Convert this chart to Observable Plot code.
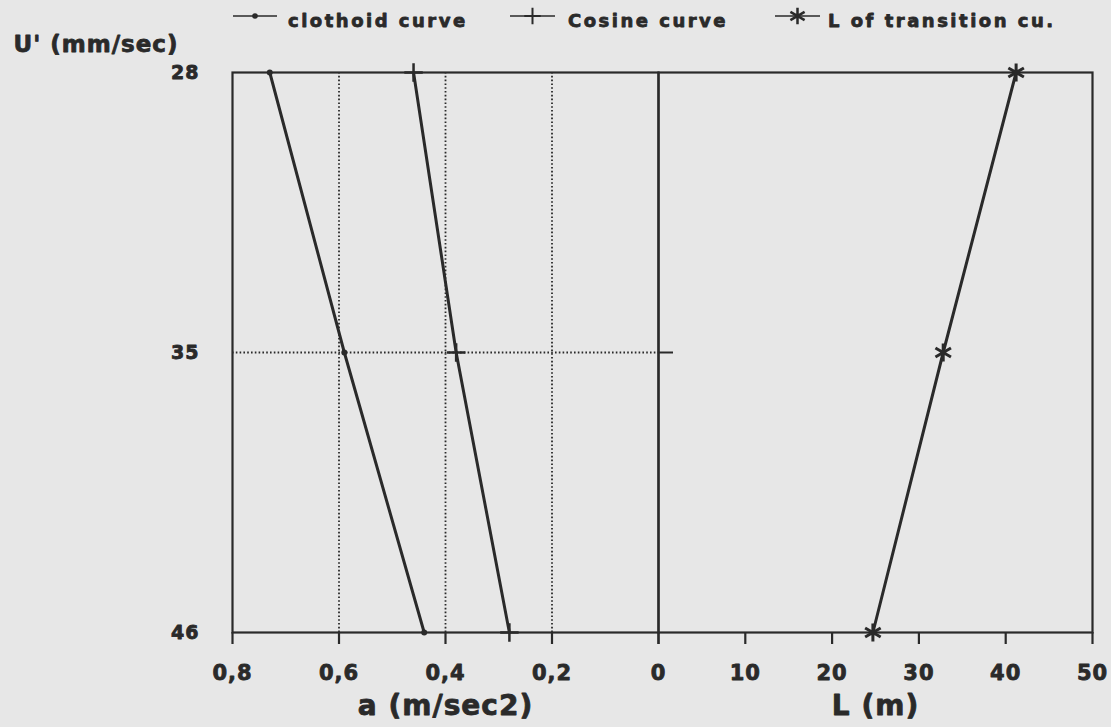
<!DOCTYPE html>
<html>
<head>
<meta charset="utf-8">
<script src="https://cdn.jsdelivr.net/npm/d3@7"></script>
<script src="https://cdn.jsdelivr.net/npm/@observablehq/plot@0.6"></script>
<style>
  html, body { margin: 0; padding: 0; background: #e7e7e7; width: 1111px; height: 727px; overflow: hidden; font-family: "DejaVu Sans", sans-serif; }
  #legend { position: relative; width: 1111px; height: 32px; }
  #row { position: relative; width: 1111px; height: 695px; }
  #left { position: absolute; left: 0; top: 0; }
  #right { position: absolute; left: 658px; top: 0; }
  #row text, #legend text { stroke: #2a2a2a; stroke-width: 0.8px; stroke-linejoin: round; }
</style>
</head>
<body>
<div id="legend"></div>
<div id="row"><div id="left"></div><div id="right"></div></div>
<script>
// ---- data ----
const seriesNames = ["clothoid curve", "Cosine curve", "L of transition cu."];
const uValues = [28, 35, 46];                 // U' (mm/sec)
const clothoidA = [0.73, 0.59, 0.44];         // a (m/sec2)
const cosineA = [0.46, 0.38, 0.28];           // a (m/sec2)
const transitionL = [41.2, 32.8, 24.7];       // L (m)
const aTicks = [0.8, 0.6, 0.4, 0.2, 0];
const aTickLabels = ["0,8", "0,6", "0,4", "0,2", "0"];
const aGrid = [0.6, 0.4, 0.2];
const lTicks = [0, 10, 20, 30, 40, 50];
const lTickLabels = ["", "10", "20", "30", "40", "50"];
const yLabel = "U' (mm/sec)";
const aLabel = "a (m/sec2)";
const lLabel = "L (m)";

const clothoid = uValues.map((u, i) => ({U: u, a: clothoidA[i]}));
const cosine = uValues.map((u, i) => ({U: u, a: cosineA[i]}));
const transition = uValues.map((u, i) => ({U: u, L: transitionL[i]}));

const ink = "#2a2a2a";
const dotted = {stroke: ink, strokeWidth: 1.8, strokeDasharray: "1.6,2.2"};
const baseStyle = {
  background: "transparent", color: ink, fontFamily: "DejaVu Sans, sans-serif",
  fontWeight: "bold", fontSize: "19px", letterSpacing: "1px", overflow: "visible"
};
const H = 695, MT = 40, MB = 95;
const yScale = {type: "point", domain: uValues, padding: 0};

// ---- left panel: a (m/sec2), reversed ----
const left = Plot.plot({
  width: 658, height: H, marginLeft: 232, marginRight: 0, marginTop: MT, marginBottom: MB,
  style: baseStyle,
  x: {domain: [0.8, 0]},
  y: yScale,
  marks: [
    Plot.ruleX(aGrid, dotted),
    Plot.ruleY([35], dotted),
    Plot.frame({stroke: ink, strokeWidth: 2.2}),
    Plot.axisX({ticks: aTicks, tickFormat: d => aTickLabels[aTicks.indexOf(d)], tickSize: 12, tickPadding: 21, fontSize: 21, strokeWidth: 2.2, label: null}),
    Plot.axisY({tickSize: 0, tickPadding: 33, fontSize: 19, label: null}),
    Plot.text([yLabel], {text: d => d, frameAnchor: "top-left", dx: -219, dy: -28, textAnchor: "start", lineAnchor: "middle", fontSize: 23}),
    Plot.text([aLabel], {text: d => d, frameAnchor: "bottom", dy: 74, lineAnchor: "middle", fontSize: 28}),
    Plot.line(clothoid, {x: "a", y: "U", stroke: ink, strokeWidth: 3}),
    Plot.dot(clothoid, {x: "a", y: "U", r: 3, fill: ink}),
    Plot.line(cosine, {x: "a", y: "U", stroke: ink, strokeWidth: 3}),
    Plot.dot(cosine, {x: "a", y: "U", symbol: "plus", r: 6, stroke: ink, strokeWidth: 2.5})
  ]
});
document.getElementById("left").append(left);

// ---- right panel: L (m) ----
const right = Plot.plot({
  width: 453, height: H, marginLeft: 0, marginRight: 19, marginTop: MT, marginBottom: MB,
  style: baseStyle,
  x: {domain: [0, 50]},
  y: yScale,
  marks: [
    Plot.frame({stroke: ink, strokeWidth: 2.2}),
    Plot.axisY({ticks: [35], tickSize: -15, tickFormat: () => "", strokeWidth: 2, label: null}),
    Plot.axisX({ticks: lTicks, tickFormat: d => lTickLabels[lTicks.indexOf(d)], tickSize: 12, tickPadding: 21, fontSize: 21, strokeWidth: 2.2, label: null}),
    Plot.text([lLabel], {text: d => d, frameAnchor: "bottom", dy: 74, lineAnchor: "middle", fontSize: 28}),
    Plot.line(transition, {x: "L", y: "U", stroke: ink, strokeWidth: 3}),
    Plot.dot(transition, {x: "L", y: "U", symbol: "asterisk", r: 8.5, stroke: ink, strokeWidth: 3})
  ]
});
document.getElementById("right").append(right);

// ---- legend ----
const lg = d3.select("#legend").append("svg").attr("width", 1111).attr("height", 32)
  .style("font-family", "DejaVu Sans, sans-serif").style("font-weight", "bold");
const legendItems = [
  {name: seriesNames[0], x0: 233, x1: 277, tx: 288, sym: "dot"},
  {name: seriesNames[1], x0: 510, x1: 555, tx: 568, sym: "plus"},
  {name: seriesNames[2], x0: 775, x1: 820, tx: 828, sym: "asterisk"}
];
const ly = 16;
legendItems.forEach(it => {
  const g = lg.append("g");
  g.append("line").attr("x1", it.x0).attr("x2", it.x1).attr("y1", ly).attr("y2", ly)
    .attr("stroke", ink).attr("stroke-width", 1.5);
  const cx = (it.x0 + it.x1) / 2;
  if (it.sym === "dot") {
    g.append("circle").attr("cx", cx).attr("cy", ly).attr("r", 2.8).attr("fill", ink);
  } else if (it.sym === "plus") {
    g.append("path").attr("d", d3.symbol(d3.symbolPlus, 90)())
      .attr("transform", `translate(${cx},${ly})`).attr("fill", "none").attr("stroke", ink).attr("stroke-width", 2);
  } else {
    g.append("path").attr("d", d3.symbol(d3.symbolAsterisk, 190)())
      .attr("transform", `translate(${cx},${ly})`).attr("fill", "none").attr("stroke", ink).attr("stroke-width", 2.5);
  }
  g.append("text").attr("x", it.tx).attr("y", 27).attr("fill", ink)
    .attr("font-size", 18).attr("letter-spacing", "2.5px").text(it.name);
});
</script>
</body>
</html>
